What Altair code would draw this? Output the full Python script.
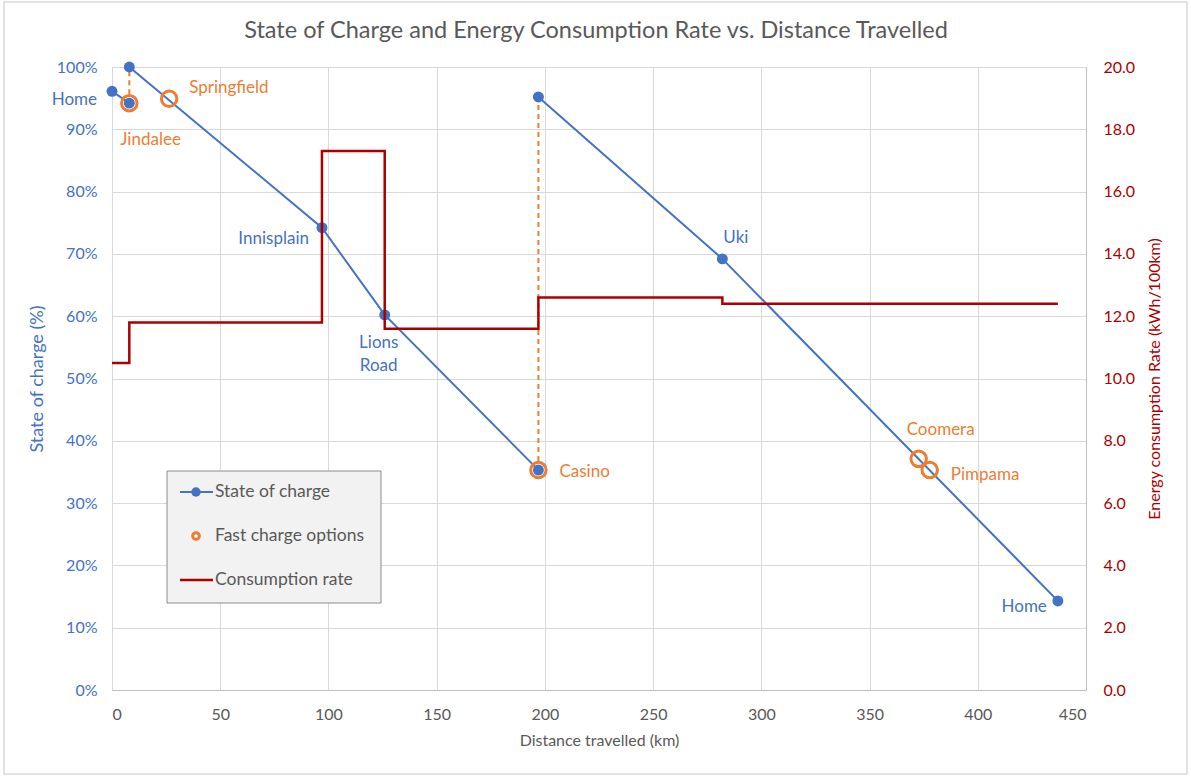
import altair as alt
import pandas as pd

# ---------------- data ----------------
# State of charge path (km travelled, % charge, segment id)
soc_km = [0, 8, 8, 97, 126, 197, 197, 282, 437]
soc_pct = [96.1, 94.2, 100.0, 74.2, 60.2, 35.3, 95.2, 69.2, 14.3]
soc_seg = [1, 1, 2, 2, 2, 2, 3, 3, 3]

# Fast charge options
fc_names = ["Jindalee", "Springfield", "Casino", "Coomera", "Pimpama"]
fc_km = [8, 26.4, 197, 372.7, 377.8]
fc_pct = [94.2, 94.9, 35.3, 37.1, 35.3]

# Charging events (dashed verticals)
chg_km = [8, 197]
chg_from = [94.2, 35.3]
chg_to = [100.0, 95.2]

# Consumption rate (kWh/100km), step-after
rate_km = [0, 8, 97, 126, 197, 282, 437]
rate_val = [10.5, 11.8, 17.3, 11.6, 12.6, 12.4, 12.4]

# Place labels on SOC points
blue_names = ["Home", "Innisplain", "Lions\nRoad", "Uki", "Home "]
blue_km = [0, 97, 126, 282, 437]
blue_pct = [96.1, 74.2, 60.2, 69.2, 14.3]

legend_labels = ["State of charge", "Fast charge options", "Consumption rate"]
title_text = "State of Charge and Energy Consumption Rate vs. Distance Travelled"

# ---------------- styling ----------------
BLUE = "#4472C4"
ORANGE = "#ED7D31"
RED = "#AC0000"
GRAY_TXT = "#595959"
GRID = "#D9D9D9"
FONT = "Lato"

soc_df = pd.DataFrame({"km": soc_km, "pct": soc_pct, "seg": soc_seg})
fc_df = pd.DataFrame({"km": fc_km, "pct": fc_pct, "name": fc_names})
chg_df = pd.DataFrame({"km": chg_km, "pct": chg_from, "pct2": chg_to})
rate_df = pd.DataFrame({"km": rate_km, "rate": rate_val})
blue_df = pd.DataFrame({"km": blue_km, "pct": blue_pct, "name": blue_names})

X = alt.X(
    "km:Q",
    scale=alt.Scale(domain=[0, 450], nice=False),
    axis=alt.Axis(
        values=list(range(0, 451, 50)),
        title="Distance travelled (km)",
        grid=True, gridColor=GRID, ticks=False,
        domainColor="#BFBFBF",
        labelColor=GRAY_TXT, labelFontSize=16, labelPadding=16,
        titleColor=GRAY_TXT, titleFontSize=16, titleFontWeight="normal",
        titlePadding=10,
    ),
)
Y = alt.Y(
    "pct:Q",
    scale=alt.Scale(domain=[0, 100], nice=False),
    axis=alt.Axis(
        values=list(range(0, 101, 10)),
        labelExpr="datum.value + '%'",
        title="State of charge (%)",
        grid=True, gridColor=GRID, ticks=False, domain=False,
        labelColor=BLUE, labelFontSize=16, labelPadding=15,
        titleColor=BLUE, titleFontSize=18, titleFontWeight="normal",
        titlePadding=10,
    ),
)

soc_line = alt.Chart(soc_df).mark_line(color=BLUE, strokeWidth=2).encode(
    x=X, y=Y, detail="seg:N"
)
chg_rule = alt.Chart(chg_df).mark_rule(
    color=ORANGE, strokeWidth=2, strokeDash=[5, 4]
).encode(x=X, y=Y, y2="pct2:Q")
soc_pts = alt.Chart(soc_df).mark_point(
    filled=True, color=BLUE, size=120, opacity=1
).encode(x=X, y=Y)
fc_pts = alt.Chart(fc_df).mark_point(
    filled=False, color=ORANGE, size=240, strokeWidth=3, opacity=1
).encode(x=X, y=Y)

# labels with individual offsets
label_style = {
    "Home": dict(align="right", dx=-15, dy=9, color=BLUE),
    "Innisplain": dict(align="right", dx=-13, dy=11, color=BLUE),
    "Lions\nRoad": dict(align="center", dx=-6, dy=28, color=BLUE),
    "Uki": dict(align="left", dx=1, dy=-21, color=BLUE),
    "Home ": dict(align="right", dx=-11, dy=6, color=BLUE),
    "Jindalee": dict(align="left", dx=-9, dy=37, color=ORANGE),
    "Springfield": dict(align="left", dx=20, dy=-11, color=ORANGE),
    "Casino": dict(align="left", dx=21, dy=2, color=ORANGE),
    "Coomera": dict(align="left", dx=-12, dy=-29, color=ORANGE),
    "Pimpama": dict(align="left", dx=21, dy=5, color=ORANGE),
}
label_layers = []
for df in (blue_df, fc_df):
    for name in df["name"]:
        st = label_style[name]
        sub = df[df["name"] == name]
        lbl = alt.Chart(sub).mark_text(
            font=FONT, fontSize=17, baseline="middle", lineHeight=23,
            lineBreak="\n", **st
        ).encode(x=X, y=Y, text=alt.Text("name:N"))
        label_layers.append(lbl)

# chart furniture (pixel positions): outer border, title and legend box
one = alt.Data(values=[{}])
border = alt.Chart(one).mark_rect(
    fill=None, stroke="#D9D9D9", strokeWidth=1.5
).encode(x=alt.value(-108), x2=alt.value(1075), y=alt.value(-65), y2=alt.value(707))
title_mark = alt.Chart(one).mark_text(
    font=FONT, fontSize=23.5, color=GRAY_TXT, align="center", baseline="middle"
).encode(x=alt.value(484), y=alt.value(-36), text=alt.value(title_text))
leg_box = alt.Chart(one).mark_rect(
    fill="#F2F2F2", stroke="#8C8C8C", strokeWidth=1
).encode(x=alt.value(55), x2=alt.value(269), y=alt.value(404), y2=alt.value(536))
leg_y = [425, 469, 513]
leg_l1 = alt.Chart(one).mark_rule(color=BLUE, strokeWidth=2).encode(
    x=alt.value(68), x2=alt.value(101), y=alt.value(leg_y[0]))
leg_p1 = alt.Chart(one).mark_point(filled=True, color=BLUE, size=90, opacity=1).encode(
    x=alt.value(84), y=alt.value(leg_y[0]))
leg_p2 = alt.Chart(one).mark_point(filled=False, color=ORANGE, size=45, strokeWidth=3, opacity=1).encode(
    x=alt.value(84), y=alt.value(leg_y[1]))
leg_l3 = alt.Chart(one).mark_rule(color=RED, strokeWidth=2.5).encode(
    x=alt.value(68), x2=alt.value(101), y=alt.value(leg_y[2]))
leg_txt = [
    alt.Chart(one).mark_text(
        font=FONT, fontSize=17.5, color=GRAY_TXT, align="left", baseline="middle"
    ).encode(x=alt.value(103), y=alt.value(yy), text=alt.value(t))
    for t, yy in zip(legend_labels, leg_y)
]

left = alt.layer(
    border, title_mark, soc_line, chg_rule, soc_pts, fc_pts, *label_layers,
    leg_box, leg_l1, leg_p1, leg_p2, leg_l3, *leg_txt,
)

rate_line = alt.Chart(rate_df).mark_line(
    color=RED, strokeWidth=2.5, interpolate="step-after"
).encode(
    x=X,
    y=alt.Y(
        "rate:Q",
        scale=alt.Scale(domain=[0, 20], nice=False),
        axis=alt.Axis(
            orient="right",
            values=list(range(0, 21, 2)),
            format=".1f",
            title="Energy consumption Rate (kWh/100km)",
            grid=False, ticks=False, domain=True, domainColor="#BFBFBF",
            labelColor=RED, labelFontSize=16, labelPadding=17,
            titleColor=RED, titleFontSize=16, titleFontWeight="normal",
            titleAngle=270, titlePadding=28,
        ),
    ),
)

chart = alt.layer(left, rate_line).resolve_scale(y="independent").properties(
    width=974,
    height=623,
    autosize="none",
    padding={"left": 112, "top": 67, "right": 105, "bottom": 88},
).configure_view(stroke=None).configure(
    background="white", font=FONT
).configure_axis(labelFont=FONT, titleFont=FONT)

chart.save("out.html", embed_options={"renderer": "svg", "actions": False})
